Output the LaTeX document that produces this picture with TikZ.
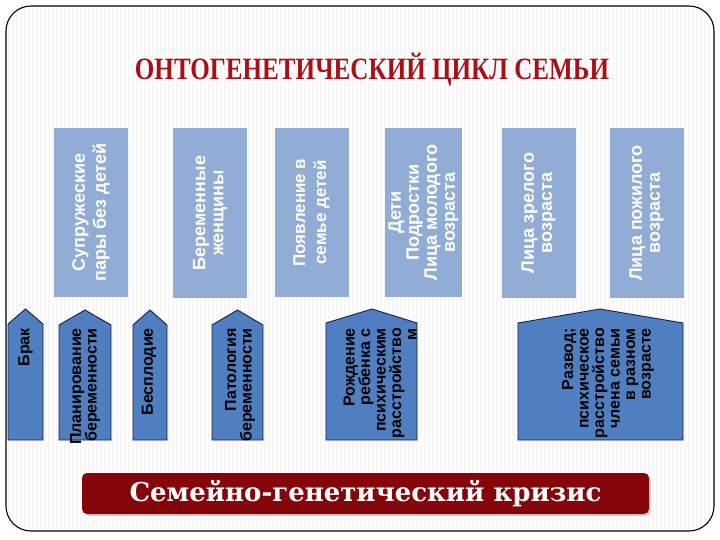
\documentclass[tikz,border=0pt]{standalone}
\usepackage{fontspec}
\setmainfont{Liberation Serif}
\setsansfont{Liberation Sans}
\newfontfamily\bannerfont{DejaVu Serif}
\definecolor{AgeFill}{RGB}{145,172,213}
\definecolor{CrisisFill}{RGB}{79,127,192}
\definecolor{CrisisLine}{RGB}{22,30,78}
\definecolor{TitleRed}{RGB}{172,14,22}
\definecolor{BannerRed}{RGB}{132,6,10}
\colorlet{StripeGray}{black!3}
\usetikzlibrary{shadows}

\begin{document}
\begin{tikzpicture}[x=1pt, y=-1pt,
    ageBox/.style={rotate=90, fill=AgeFill, text=white, align=center, inner sep=0pt,
        font=\sffamily\bfseries\fontsize{18}{18}\selectfont,
        minimum width=169pt, minimum height=74pt},
    crisisShape/.style={draw=CrisisLine, fill=CrisisFill, line width=0.9pt},
    crisisText/.style={rotate=90, anchor=east, align=right, inner sep=0pt,
        font=\sffamily\bfseries\fontsize{16}{15.5}\selectfont},
    bannerBox/.style={fill=BannerRed, rounded corners=5pt, text=white,
        font=\bannerfont\bfseries\fontsize{26}{26}\selectfont,
        minimum width=567pt, minimum height=41pt,
        drop shadow={opacity=0.35, shadow xshift=2pt, shadow yshift=-2pt}}]

    \useasboundingbox (0,0) rectangle (720,540);
    \fill[white] (0,0) rectangle (720,540);

    % faint stripes of the slide
    \foreach \sx in {9,13,...,711}
        \draw[StripeGray, line width=1.4pt] (\sx,8) -- (\sx,529);

    \draw[rounded corners=25pt, line width=1.1pt] (6,6) rectangle (714,531);

    \node[font=\bfseries\fontsize{31}{31}\selectfont, text=TitleRed] (title) at (372,70)
        {\scalebox{0.81}[1]{ОНТОГЕНЕТИЧЕСКИЙ ЦИКЛ СЕМЬИ}};

    % age groups
    \node[ageBox, font=\sffamily\bfseries\fontsize{18}{21}\selectfont] (couples) at (91,212.5) {Супружеские\\пары без детей};
    \node[ageBox] (pregnant) at (210,213) {Беременные\\женщины};
    \node[ageBox, font=\sffamily\bfseries\fontsize{17}{21}\selectfont] (newborn) at (311.5,212.5) {Появление в\\семье детей};
    \node[ageBox, minimum height=77pt] (young) at (423.5,212.5) {Дети\\Подростки\\Лица молодого\\возраста};
    \node[ageBox] (mature) at (538.5,213) {Лица зрелого\\возраста};
    \node[ageBox] (elderly) at (646.5,213) {Лица пожилого\\возраста};

    % crises
    \draw[crisisShape] (8,440) -- (8,324) -- (25.5,309) -- (43,324) -- (43,440) -- cycle;
    \node[crisisText] (marriage) at (25.5,328) {Брак};

    \draw[crisisShape] (59,440) -- (59,325) -- (85,310) -- (111,325) -- (111,440) -- cycle;
    \node[crisisText] (planning) at (85,328) {Планирование\\беременности};

    \draw[crisisShape] (133,440) -- (133,325) -- (150,310) -- (167,325) -- (167,440) -- cycle;
    \node[crisisText] (infertility) at (149,328) {Бесплодие};

    \draw[crisisShape] (212,440) -- (212,325) -- (237.5,310) -- (263,325) -- (263,440) -- cycle;
    \node[crisisText] (pathology) at (240,328) {Патология\\беременности};

    \draw[crisisShape] (326,440) -- (326,323) -- (372,309) -- (417,323) -- (417,440) -- cycle;
    \node[crisisText] (disorder) at (380,328) {Рождение\\ребенка с\\психическим\\расстройство\\м};

    \draw[crisisShape] (518,440) -- (518,323) -- (600,309) -- (683,323) -- (683,440) -- cycle;
    \node[crisisText] (divorce) at (608,328) {Развод;\\психическое\\расстройство\\члена семьи\\в разном\\возрасте};

    \node[bannerBox] (crisis) at (365.5,493.5) {Семейно-генетический кризис};

\end{tikzpicture}
\end{document}
